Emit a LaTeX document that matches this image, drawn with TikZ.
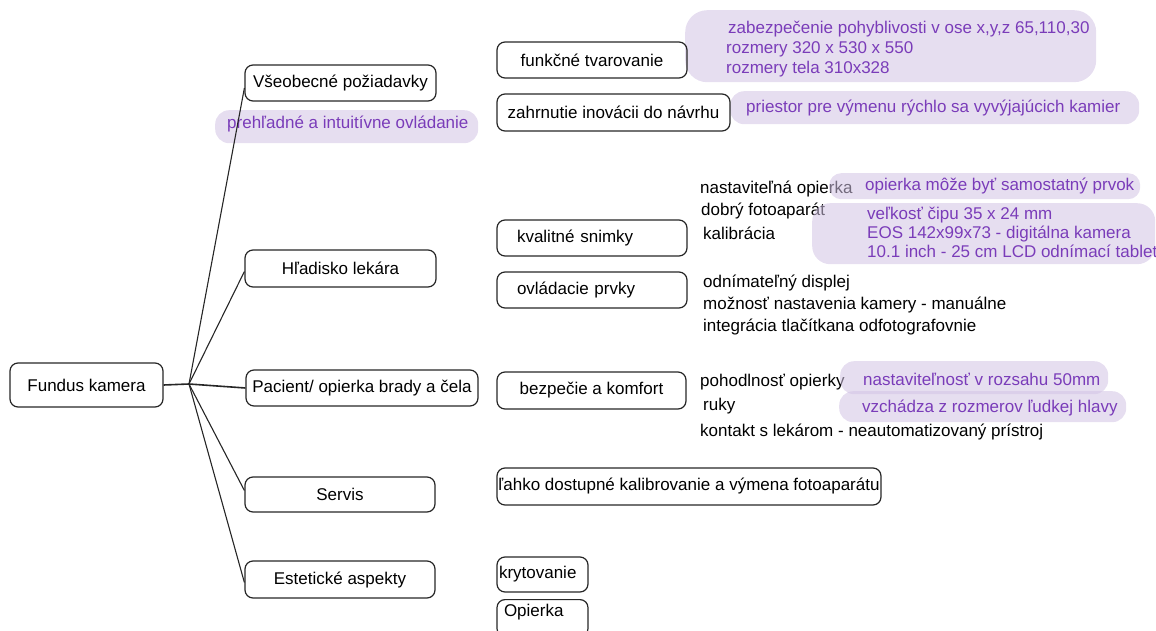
\documentclass[tikz,border=0pt]{standalone}
\usepackage{fontspec}
\setmainfont{Liberation Sans}
\usepackage{tikz}
\definecolor{pillfill}{RGB}{210,195,228}
\definecolor{pilltext}{RGB}{122,60,185}
\tikzstyle{box}=[draw=black!85, line width=1.2pt, rounded corners=8pt, inner sep=0pt]
\tikzstyle{lbox}=[box, align=left]
\tikzstyle{pill}=[fill=pillfill, fill opacity=0.55, rounded corners=14pt, inner sep=0pt, anchor=north west]
\tikzstyle{ptext}=[text=pilltext, align=left, inner sep=0pt, anchor=west]
\tikzstyle{item}=[align=left, inner sep=0pt, anchor=west]
\tikzstyle{link}=[black!85, line width=1.1pt]

\begin{document}
\begin{tikzpicture}[x=1pt, y=-1pt, font=\fontsize{17}{20}\selectfont]
\useasboundingbox (0,0) rectangle (1156,631);

% loose notes
\node[item] (nast) at (700,189) {nastaviteľná opierka};
\node[item] (dobry) at (701,211) {dobrý fotoaparát};
\node[item] (kalib) at (703,233) {kalibrácia};
\node[item] (odnim) at (703,283) {odnímateľný displej};
\node[item] (moznost) at (703,305) {možnosť nastavenia kamery - manuálne};
\node[item] (integr) at (703,327) {integrácia tlačítkana odfotografovnie};
\node[item] (pohodl) at (700,382) {pohodlnosť opierky};
\node[item] (ruky) at (703,406) {ruky};
\node[item] (kontakt) at (700,432) {kontakt s lekárom - neautomatizovaný prístroj};

% purple bubbles
\node[pill, minimum width=263pt, minimum height=33pt] (pintuit) at (215,110) {};
\node[pill, minimum width=411pt, minimum height=72pt, rounded corners=22pt] (pfunk) at (685,10) {};
\node[pill, minimum width=409pt, minimum height=33pt] (pinov) at (730,91) {};
\node[pill, minimum width=311pt, minimum height=26pt, rounded corners=12pt] (pnast) at (829,173) {};
\node[pill, minimum width=343pt, minimum height=61pt, rounded corners=18pt] (pfoto) at (812,203) {};
\node[pill, minimum width=268pt, minimum height=33pt] (prozsah) at (840,361) {};
\node[pill, minimum width=287pt, minimum height=31pt] (phlava) at (839,391) {};

\node[ptext] (tintuit) at (227,124) {prehľadné a intuitívne ovládanie};
\node[ptext] (tfunk) at (726,49) {\hspace*{2pt}zabezpečenie pohyblivosti v ose x,y,z 65,110,30\\rozmery 320 x 530 x 550\\rozmery tela 310x328};
\node[ptext] (tinov) at (746,108) {priestor pre výmenu rýchlo sa vyvýjajúcich kamier};
\node[ptext] (tnast) at (865,186) {opierka môže byť samostatný prvok};
\node[ptext, font=\fontsize{17}{19}\selectfont] (tfoto) at (867,232) {veľkosť čipu 35 x 24 mm\\EOS 142x99x73 - digitálna kamera\\10.1 inch - 25 cm LCD odnímací tablet};
\node[ptext] (trozsah) at (863,379) {nastaviteľnosť v rozsahu 50mm};
\node[ptext] (thlava) at (862,408) {vzchádza z rozmerov ľudkej hlavy};

% boxes
\node[box, minimum width=153pt, minimum height=44pt] (fundus) at (86.5,385) {Fundus kamera};
\coordinate (hub) at (189,384);

\node[box, minimum width=191pt, minimum height=36pt] (vseob) at (340.5,83) {Všeobecné požiadavky};
\node[box, minimum width=191pt, minimum height=37pt] (hladisko) at (340.5,268.5) {Hľadisko lekára};
\node[box, minimum width=232pt, minimum height=36pt] (pacient) at (362,388) {Pacient/ opierka brady a čela};
\node[box, minimum width=190pt, minimum height=35pt] (servis) at (340,494.5) {Servis};
\node[box, minimum width=190pt, minimum height=37pt] (estet) at (340,579.5) {Estetické aspekty};

\node[box, minimum width=190pt, minimum height=36pt] (funk) at (592,60) {funkčné tvarovanie};
\node[box, minimum width=233pt, minimum height=37pt] (inov) at (613.5,112.5) {zahrnutie inovácii do návrhu};
\node[lbox, text width=150pt, inner xsep=20pt, minimum height=36pt] (kval) at (592,238) {kvalitné snimky};
\node[lbox, text width=150pt, inner xsep=20pt, minimum height=36pt] (ovl) at (592,290) {ovládacie prvky};
\node[box, minimum width=189pt, minimum height=37pt] (bezp) at (591.5,390.5) {bezpečie a komfort};
\node[box, minimum width=384pt, minimum height=37pt] (lahko) at (689,486.5) {ľahko dostupné kalibrovanie a výmena fotoaparátu};
\node[lbox, text width=87pt, inner xsep=2pt, minimum height=35pt] (kryt) at (542.5,574.5) {krytovanie};
\node[lbox, text width=77pt, inner xsep=7pt, text height=17pt, text depth=20pt, anchor=north] (opierka) at (542.5,599) {Opierka};

% connectors
\draw[link, line width=1.6pt] (fundus.east) -- (hub) -- (pacient.west);
\foreach \n/\s in {vseob/5, hladisko/3, servis/-4, estet/3} {
	\draw[link] (hub) -- ([yshift=-\s pt]\n.west);
}
\end{tikzpicture}
\end{document}
